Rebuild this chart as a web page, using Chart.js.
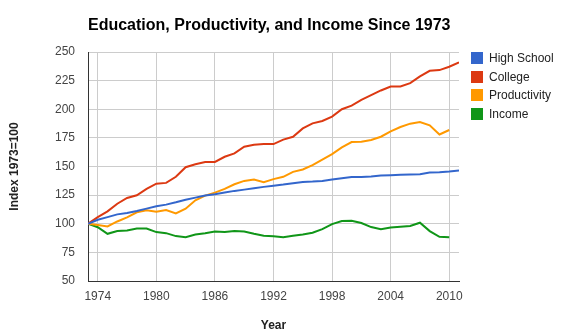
<!DOCTYPE html>
<html lang="en">
<head>
    <meta charset="UTF-8">
    <title>Education, Productivity, and Income Since 1973</title>
    <style>
        body { margin: 0; background: #fff; }
        .wrap { position: relative; width: 561px; height: 336px; }
        .legend {
            position: absolute;
            left: 471px;
            top: 49px;
            font: 12px Arial, "Liberation Sans", sans-serif;
            color: #222;
        }
        .legend div { height: 18.6px; display: flex; align-items: center; }
        .legend span.box { width: 12px; height: 12px; margin-right: 6px; display: inline-block; }
    </style>
</head>
<body>
    <div class="wrap">
        <canvas id="chart" width="561" height="336"></canvas>
        <div class="legend" id="legend"></div>
    </div>

    <script src="https://cdn.jsdelivr.net/npm/chart.js@4.4.0/dist/chart.umd.min.js"></script>
    <script>
        // data (index, 1973 = 100)
        const years = [];
        for (let y = 1973; y <= 2011; y++) years.push(y);

        const xTicks = [1974, 1980, 1986, 1992, 1998, 2004, 2010];
        const yTicks = [50, 75, 100, 125, 150, 175, 200, 225, 250];

        const highSchool = [100, 103.5, 105.8, 108.2, 109.4, 111.1, 113.2, 115.2, 116.7, 118.7,
            121, 122.8, 124.6, 125.7, 127.2, 128.7, 129.8, 131, 132.2, 133.2,
            134.2, 135.4, 136.5, 136.8, 137.4, 138.6, 139.8, 140.9, 140.9, 141.2,
            142.1, 142.4, 142.7, 143, 143.3, 144.7, 145, 145.6, 146.5];
        const college = [100, 105.8, 110.8, 117.5, 122.5, 124.9, 130.4, 135, 135.7, 141,
            149.4, 152, 154, 154, 158.5, 161.4, 167.3, 169, 169.6, 169.6,
            173.5, 176, 183.3, 187.7, 189.8, 193.6, 200, 203.2, 208.2, 212.3,
            216.4, 219.9, 219.9, 222.8, 228.7, 233.6, 234.2, 237.1, 241];
        const productivity = [100, 99, 97.7, 102, 105.6, 110, 111.7, 110.5, 112, 109,
            113.2, 120.5, 124.6, 127.2, 130.4, 134.5, 137.4, 138.6, 136.3, 139,
            141, 145.3, 147.4, 151.2, 156.1, 160.8, 166.7, 171.3, 171.6, 173.1,
            176, 180.7, 184.5, 187.4, 188.9, 186, 178, 181.9];
        const income = [100, 97, 91.2, 93.6, 94.2, 95.9, 95.9, 92.7, 91.8, 89.2,
            88.3, 90.6, 91.8, 93.3, 92.7, 93.6, 93.3, 91.2, 89.5, 89,
            88.3, 89.5, 90.6, 92.1, 95.3, 99.7, 102.3, 102.6, 100.6, 97.1,
            95.3, 96.8, 97.4, 98, 100.9, 93.6, 88.6, 88.3];

        const seriesNames = ['High School', 'College', 'Productivity', 'Income'];
        const seriesColors = ['#3366cc', '#dc3912', '#ff9900', '#109618'];
        const seriesValues = [highSchool, college, productivity, income];

        const font = 'Arial, "Liberation Sans", sans-serif';

        const datasets = seriesNames.map((name, i) => ({
            label: name,
            data: seriesValues[i].map((v, j) => ({ x: years[j], y: v })),
            borderColor: seriesColors[i],
            backgroundColor: seriesColors[i],
            borderWidth: 2,
            pointRadius: 0,
            tension: 0
        }));

        // legend on the right, Google style
        const legend = document.getElementById('legend');
        seriesNames.forEach((name, i) => {
            const row = document.createElement('div');
            const box = document.createElement('span');
            box.className = 'box';
            box.style.background = seriesColors[i];
            row.appendChild(box);
            row.appendChild(document.createTextNode(name));
            legend.appendChild(row);
        });

        new Chart(document.getElementById('chart'), {
            type: 'line',
            data: { datasets },
            options: {
                responsive: false,
                animation: false,
                layout: { padding: { top: 0, right: 102, bottom: 0, left: 0 } },
                plugins: {
                    legend: { display: false },
                    tooltip: { enabled: false },
                    title: {
                        display: true,
                        text: 'Education, Productivity, and Income Since 1973',
                        align: 'start',
                        fullSize: false,
                        color: '#000',
                        font: { family: font, size: 16, weight: 'bold' },
                        padding: { top: 16, bottom: 16.8 }
                    }
                },
                scales: {
                    x: {
                        type: 'linear',
                        min: 1973,
                        max: 2011,
                        afterBuildTicks: (scale) => { scale.ticks = xTicks.map(v => ({ value: v })); },
                        afterFit: (scale) => { scale.height = 55; },
                        grid: { color: '#cccccc', drawTicks: false },
                        border: { color: '#333333', width: 1 },
                        ticks: {
                            padding: 8,
                            color: '#444',
                            font: { family: font, size: 12 },
                            callback: (v) => String(v),
                            maxRotation: 0
                        },
                        title: {
                            display: true,
                            text: 'Year',
                            color: '#222',
                            font: { family: font, size: 12, weight: 'bold' },
                            padding: { top: 0, bottom: 3 }
                        }
                    },
                    y: {
                        min: 50,
                        max: 250,
                        afterBuildTicks: (scale) => { scale.ticks = yTicks.map(v => ({ value: v })); },
                        afterFit: (scale) => { scale.width = 88; },
                        grid: { color: '#cccccc', drawTicks: false },
                        border: { color: '#333333', width: 1 },
                        ticks: {
                            padding: 13,
                            color: '#444',
                            font: { family: font, size: 12 }
                        },
                        title: {
                            display: true,
                            text: 'Index 1973=100',
                            color: '#222',
                            font: { family: font, size: 12, weight: 'bold' },
                            padding: { top: 7, bottom: 0 }
                        }
                    }
                }
            }
        });
    </script>
</body>
</html>
